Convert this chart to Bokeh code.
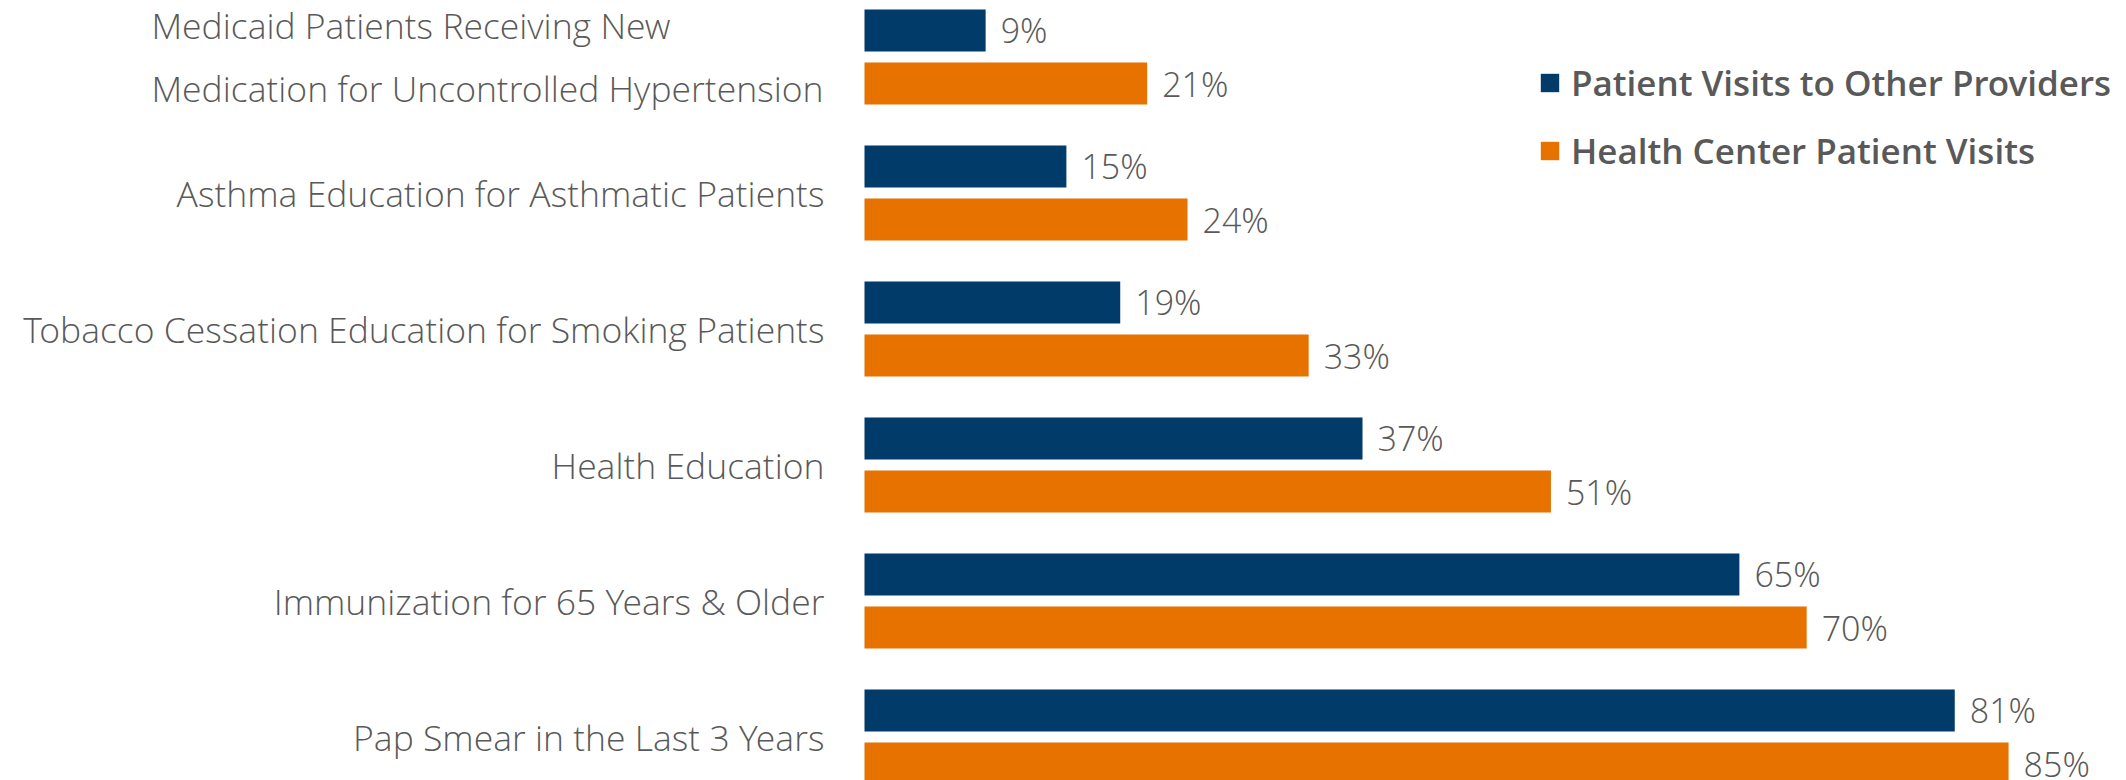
from bokeh.plotting import figure
from bokeh.models import Range1d, ColumnDataSource, Legend, LegendItem
from bokeh.transform import dodge
from bokeh.core.properties import value
from bokeh.embed import file_html
from bokeh.resources import INLINE

# ---- data ----
categories = [
    "Medicaid Patients Receiving New\nMedication for Uncontrolled Hypertension",
    "Asthma Education for Asthmatic Patients",
    "Tobacco Cessation Education for Smoking Patients",
    "Health Education",
    "Immunization for 65 Years & Older",
    "Pap Smear in the Last 3 Years",
]
other_providers = [9, 15, 19, 37, 65, 81]
health_center = [21, 24, 33, 51, 70, 85]
series_names = ["Patient Visits to Other Providers", "Health Center Patient Visits"]
colors = ["#003B6A", "#E87200"]

LIGHT = "Open Sans Light"
SEMI = "Open Sans SemiBold"
GRAY = "#595959"
FS = "35.5px"
FSV = "34px"

W, H = 2126, 780
p = figure(width=W, height=H, output_backend="svg", toolbar_location=None,
           x_range=Range1d(-64.19, 93.76), y_range=Range1d(5.32, -0.4154),
           x_axis_location=None, y_axis_location=None,
           min_border=0, outline_line_color=None)
p.grid.visible = False
p.background_fill_color = "white"

idx = list(range(len(categories)))
src = ColumnDataSource(dict(
    idx=idx,
    other=other_providers,
    health=health_center,
    other_lbl=[f"{v}%" for v in other_providers],
    health_lbl=[f"{v}%" for v in health_center],
))

OFF = 0.195
BH = 0.309
r1 = p.hbar(y=dodge("idx", -OFF, range=p.y_range), left=0, right="other", height=BH,
            fill_color=colors[0], line_color=None, source=src)
r2 = p.hbar(y=dodge("idx", OFF, range=p.y_range), left=0, right="health", height=BH,
            fill_color=colors[1], line_color=None, source=src)

for col, off in (("other_lbl", -OFF), ("health_lbl", OFF)):
    xcol = "other" if col == "other_lbl" else "health"
    p.text(x=xcol, y=dodge("idx", off, range=p.y_range), text=col, source=src,
           x_offset=15, text_align="left", text_baseline="middle",
           text_font=value(LIGHT), text_font_size=FSV, text_color=GRAY)

# category labels
ry, rt = [], []
lx, ly, lt, lyo = [], [], [], []
for i, c in enumerate(categories):
    lines = c.split("\n")
    if len(lines) == 1:
        ry.append(i); rt.append(c)
    else:
        n = len(lines)
        for j, ln in enumerate(lines):
            yo = (j - (n - 1) / 2) * 63
            lx.append(0); ly.append(i); lt.append(ln); lyo.append(yo)
p.text(x=0, y=ry, text=rt, x_offset=-40, text_align="right", text_baseline="middle",
       text_font=value(LIGHT), text_font_size=FS, text_color=GRAY)
p.text(x=lx, y=ly, text=lt, x_offset=-713, y_offset=lyo, text_align="left",
       text_baseline="middle", text_font=value(LIGHT), text_font_size=FS, text_color=GRAY)

legend = Legend(items=[LegendItem(label=series_names[0], renderers=[r1]),
                       LegendItem(label=series_names[1], renderers=[r2])],
                location=(1538, 606), orientation="vertical",
                glyph_width=23, glyph_height=23, label_standoff=10, spacing=20,
                padding=0, margin=0, border_line_color=None, background_fill_alpha=0,
                label_text_font=SEMI, label_text_font_size="35px", label_text_color=GRAY,
                label_height=48)
p.add_layout(legend)

open("out.html", "w").write(file_html(p, INLINE))
